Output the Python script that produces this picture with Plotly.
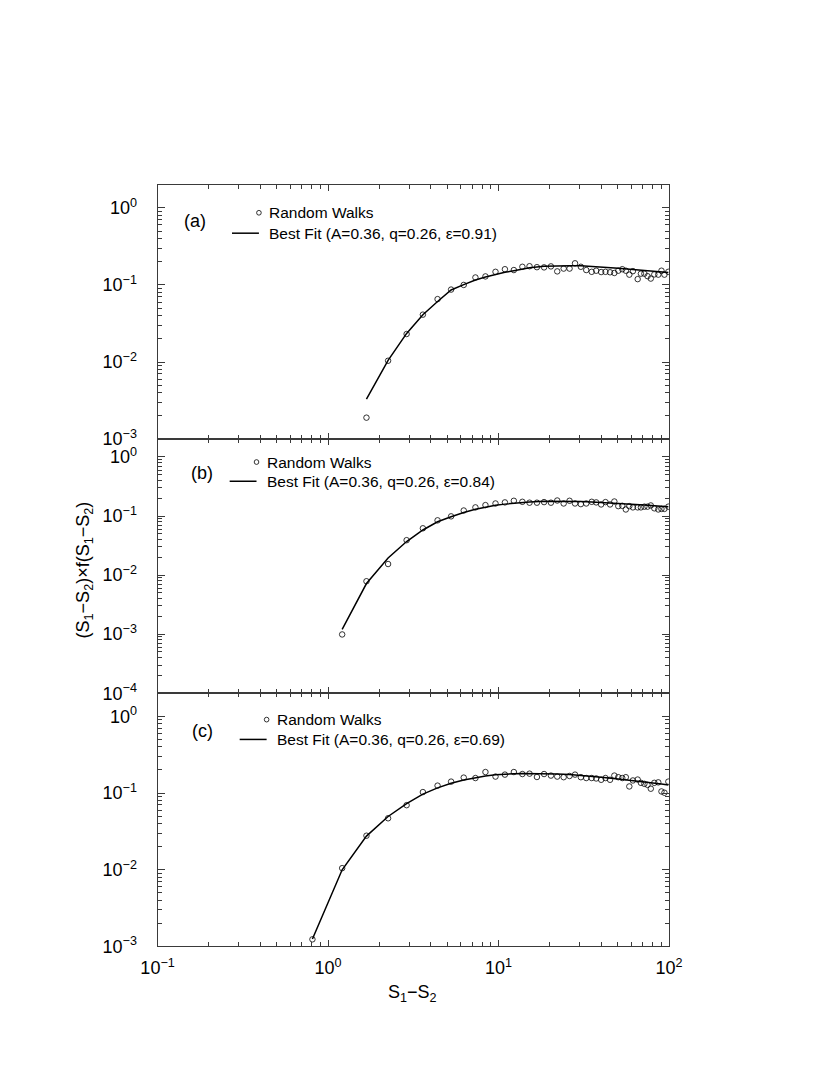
import plotly.graph_objects as go

# ---------------- data ----------------
X = [0.81, 1.21, 1.68, 2.25, 2.89, 3.6, 4.39, 5.27, 6.25, 7.32, 8.38, 9.6, 10.9,
     12.3, 13.8, 15.2, 16.8, 18.5, 20.3, 22.1, 24.1, 26.1, 28.1, 30.4, 32.7,
     35.2, 37.4, 40.0, 42.4, 45.1, 47.8, 50.4, 53.2, 55.8, 58.5, 61.4, 65.5,
     68.4, 71.7, 74.8, 78.2, 82.0, 86.5, 90.3, 94.0, 99.1]

# panel (a): random walks, starts at X[2]
A_RW = [0.0019, 0.0104, 0.0231, 0.0412, 0.0655, 0.0871, 0.100, 0.125, 0.129, 0.148,
        0.160, 0.156, 0.172, 0.175, 0.170, 0.169, 0.174, 0.150, 0.163, 0.163,
        0.191, 0.172, 0.156, 0.148, 0.153, 0.147, 0.148, 0.146, 0.143, 0.153,
        0.160, 0.153, 0.136, 0.151, 0.119, 0.140, 0.140, 0.130, 0.121, 0.137,
        0.136, 0.153, 0.136, 0.148]
# panel (b): starts at X[1]
B_RW = [0.00099, 0.00787, 0.0154, 0.039, 0.062, 0.0845, 0.0987, 0.124, 0.140, 0.153,
        0.163, 0.170, 0.181, 0.174, 0.168, 0.168, 0.172, 0.168, 0.183, 0.163,
        0.181, 0.163, 0.159, 0.163, 0.174, 0.170, 0.157, 0.172, 0.157, 0.176,
        0.147, 0.149, 0.129, 0.147, 0.140, 0.140, 0.140, 0.144, 0.144, 0.151,
        0.135, 0.129, 0.132, 0.132, 0.144]
# panel (c): starts at X[0]
C_RW = [0.00124, 0.0105, 0.0278, 0.0469, 0.0695, 0.103, 0.125, 0.141, 0.159, 0.157,
        0.188, 0.164, 0.174, 0.188, 0.177, 0.179, 0.162, 0.177, 0.169, 0.164,
        0.161, 0.167, 0.174, 0.161, 0.157, 0.157, 0.155, 0.149, 0.157, 0.149,
        0.169, 0.161, 0.157, 0.161, 0.122, 0.146, 0.150, 0.136, 0.132, 0.128,
        0.114, 0.136, 0.138, 0.105, 0.101, 0.141]

FIT_X = [0.81, 1.21, 1.68, 2.25, 2.89, 3.6, 4.39, 5.27, 6.25, 7.32, 8.38, 9.6,
         10.9, 12.3, 13.8, 15.2, 18.5, 22.1, 26.1, 30.4, 35.2, 40.0, 50.4, 61.4,
         71.7, 82.0, 90.3, 99.1]
A_FIT = [0.0033, 0.0105, 0.0235, 0.041, 0.061, 0.086, 0.101, 0.116, 0.127, 0.137,
         0.146, 0.153, 0.161, 0.167, 0.175, 0.178, 0.178, 0.177, 0.174, 0.171,
         0.165, 0.159, 0.154, 0.150, 0.147, 0.145]
B_FIT = [0.00121, 0.0072, 0.0195, 0.037, 0.058, 0.080, 0.097, 0.115, 0.130, 0.142,
         0.152, 0.159, 0.165, 0.170, 0.173, 0.177, 0.178, 0.178, 0.176, 0.173,
         0.170, 0.164, 0.158, 0.153, 0.149, 0.146, 0.143]
C_FIT = [0.00125, 0.0100, 0.0275, 0.0495, 0.073, 0.097, 0.117, 0.134, 0.148, 0.159,
         0.167, 0.173, 0.177, 0.179, 0.180, 0.180, 0.179, 0.177, 0.174, 0.170,
         0.166, 0.161, 0.153, 0.146, 0.140, 0.135, 0.131, 0.127]

PANEL_LABELS = ["(a)", "(b)", "(c)"]
EPSILONS = ["0.91", "0.84", "0.69"]
Y_DECADES = [(-3, 0), (-4, 0), (-3, 0)]
X_DECADES = (-1, 2)

# ---------------- layout geometry ----------------
W, H = 830, 1075
FONT = "Liberation Sans, Arial, Helvetica, sans-serif"
AX = "#3a3a3a"


def px(x):
    return x / W


def py(y):
    return 1 - y / H


X_DOM = [px(137.7), px(669)]
Y_DOMS = [[py(435.2), py(178.3)], [py(691.7), py(435.2)], [py(947.3), py(691.7)]]


def sup(e):
    return "10<sup>%s</sup>" % (str(e) if e >= 0 else "\u2212" + str(-e))


def minors(lo, hi):
    vals = []
    for e in range(lo, hi + 1):
        for m in range(2, 10):
            vals.append(m * 10.0 ** e)
    return vals


fig = go.Figure()

series = [
    (X[2:], A_RW, FIT_X[2:], A_FIT),
    (X[1:], B_RW, FIT_X[1:], B_FIT),
    (X, C_RW, FIT_X, C_FIT),
]

for i, (xr, yr, xf, yf) in enumerate(series):
    sfx = "" if i == 0 else str(i + 1)
    fig.add_trace(go.Scatter(x=xf, y=yf, mode="lines",
                             line=dict(color="black", width=1.5),
                             xaxis="x" + sfx, yaxis="y" + sfx, showlegend=False))
    fig.add_trace(go.Scatter(x=xr, y=yr, mode="markers",
                             marker=dict(symbol="circle-open", size=5.5,
                                         color="black", line=dict(width=0.8)),
                             xaxis="x" + sfx, yaxis="y" + sfx, showlegend=False))

layout = dict(width=W, height=H, margin=dict(l=0, r=0, t=0, b=0),
              paper_bgcolor="white", plot_bgcolor="white",
              font=dict(family=FONT, size=17, color="black"),
              showlegend=False)

for i in range(3):
    sfx = "" if i == 0 else str(i + 1)
    lo, hi = Y_DECADES[i]
    xa = dict(type="log", range=[X_DECADES[0], X_DECADES[1]], domain=X_DOM,
              anchor="y" + sfx, showline=True, linecolor=AX, linewidth=1,
              mirror="allticks", ticks="inside", ticklen=6, tickwidth=1,
              tickcolor=AX, showgrid=False, zeroline=False,
              tickmode="array",
              tickvals=[10.0 ** e for e in range(X_DECADES[0], X_DECADES[1] + 1)],
              ticktext=[sup(e) for e in range(X_DECADES[0], X_DECADES[1] + 1)],
              minor=dict(tickmode="array", tickvals=minors(X_DECADES[0], X_DECADES[1] - 1),
                         ticks="inside", ticklen=4, tickcolor=AX, tickwidth=1,
                         showgrid=False),
              showticklabels=(i == 2), ticklabelstandoff=5,
              tickfont=dict(family=FONT, size=18, color="black"))
    ya = dict(type="log", range=[lo, hi + 0.301], domain=Y_DOMS[i],
              anchor="x" + sfx, showline=True, linecolor=AX, linewidth=1,
              mirror="allticks", ticks="inside", ticklen=7, tickwidth=1,
              tickcolor=AX, showgrid=False, zeroline=False,
              tickmode="array",
              tickvals=[10.0 ** e for e in range(lo, hi + 1)],
              ticktext=[sup(e) for e in range(lo, hi + 1)],
              minor=dict(tickmode="array", tickvals=minors(lo, hi - 1),
                         ticks="inside", ticklen=4, tickcolor=AX, tickwidth=1,
                         showgrid=False),
              ticklabelstandoff=16,
              tickfont=dict(family=FONT, size=18, color="black"))
    layout["xaxis" + sfx] = xa
    layout["yaxis" + sfx] = ya

fig.update_layout(**layout)

# ---------------- hand-drawn legends and panel labels ----------------
LEG = [  # (label_x, label_y, circle_x, circle_y, line_x0, line_y, text_x)
    (163, 215, 243, 206.7, 215, 227.3, 251.5),
    (170, 469, 240.5, 458.3, 212.6, 477.7, 249.8),
    (171, 730, 251, 718.3, 223, 738.3, 259.8),
]
r = 2.4
for i, (lx, ly, cx, cy, l0, lyy, tx) in enumerate(LEG):
    fig.add_annotation(x=px(lx), y=py(ly), xref="paper", yref="paper",
                       text=PANEL_LABELS[i], showarrow=False, xanchor="left",
                       yanchor="middle", font=dict(family=FONT, size=18))
    fig.add_shape(type="circle", xref="paper", yref="paper",
                  x0=px(cx - r), x1=px(cx + r), y0=py(cy + r), y1=py(cy - r),
                  line=dict(color="black", width=0.8))
    fig.add_shape(type="line", xref="paper", yref="paper",
                  x0=px(l0), x1=px(cx), y0=py(lyy), y1=py(lyy),
                  line=dict(color="black", width=1.5))
    fig.add_annotation(x=px(tx), y=py(cy), xref="paper", yref="paper",
                       text="Random Walks", showarrow=False, xanchor="left",
                       yanchor="middle", font=dict(family=FONT, size=15.5))
    fig.add_annotation(x=px(tx), y=py(lyy), xref="paper", yref="paper",
                       text="Best Fit (A=0.36, q=0.26, \u03b5=%s)" % EPSILONS[i],
                       showarrow=False, xanchor="left", yanchor="middle",
                       font=dict(family=FONT, size=15.5))

# axis titles
fig.add_annotation(x=px(62), y=py(567), xref="paper", yref="paper",
                   text="(S<sub>1</sub>\u2212S<sub>2</sub>)\u00d7f(S<sub>1</sub>\u2212S<sub>2</sub>)",
                   textangle=-90, showarrow=False, xanchor="center", yanchor="middle",
                   font=dict(family=FONT, size=18))
fig.add_annotation(x=px(403), y=py(995), xref="paper", yref="paper",
                   text="S<sub>1</sub>\u2212S<sub>2</sub>", showarrow=False,
                   xanchor="center", yanchor="middle", font=dict(family=FONT, size=18))

fig.write_html("out.html")
